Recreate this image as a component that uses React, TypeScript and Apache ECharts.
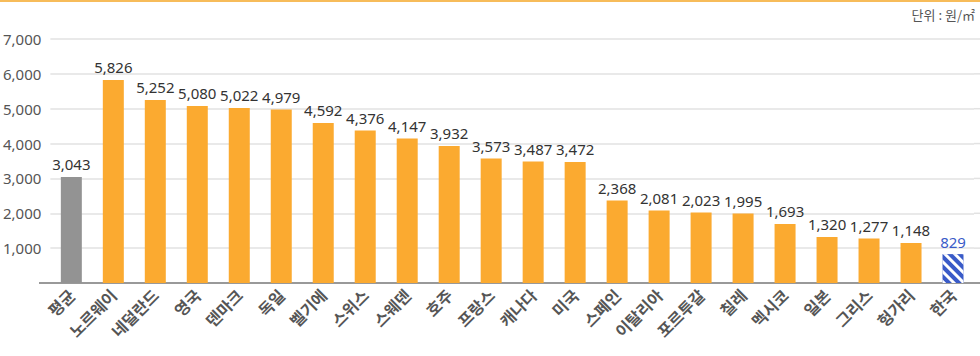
import React, { useEffect, useRef } from "react";
import * as echarts from "echarts";

const categories = ["평균", "노르웨이", "네덜란드", "영국", "덴마크", "독일", "벨기에", "스위스", "스웨덴", "호주", "프랑스", "캐나다", "미국", "스페인", "이탈리아", "포르투갈", "칠레", "멕시코", "일본", "그리스", "헝가리", "한국"];
const values = [3043, 5826, 5252, 5080, 5022, 4979, 4592, 4376, 4147, 3932, 3573, 3487, 3472, 2368, 2081, 2023, 1995, 1693, 1320, 1277, 1148, 829];
const yTicks = { min: 0, max: 7000, interval: 1000 };
const unitText = "단위 : 원/㎡";

const ORANGE = "#FBAA30";
const GRAY = "#939393";
const BLUE = "#3A5BC8";

export default function App() {
  const ref = useRef<HTMLDivElement>(null);
  useEffect(() => {
    if (!ref.current) return;
    const chart = echarts.init(ref.current, null, { renderer: "svg" });
    const n = categories.length;
    const data = values.map((v, i) => {
      if (i === 0) return { value: v, itemStyle: { color: GRAY } };
      if (i === n - 1)
        return {
          value: v,
          itemStyle: {
            color: BLUE,
            decal: {
              symbol: "rect",
              symbolSize: 1,
              color: "#ffffff",
              dashArrayX: [1, 0],
              dashArrayY: [2.5, 3.5],
              rotation: Math.PI / 4,
            },
          },
          label: { color: BLUE },
        };
      return { value: v, itemStyle: { color: ORANGE } };
    });
    chart.setOption({
      animation: false,
      textStyle: { fontFamily: "'Noto Sans', 'Noto Sans CJK KR', sans-serif" },
      grid: { left: 46, right: 6, top: 39, bottom: 73, containLabel: false },
      xAxis: {
        type: "category",
        data: categories,
        axisLine: { lineStyle: { color: "#999", width: 2 } },
        axisTick: { show: false },
        axisLabel: {
          rotate: 45,
          interval: 0,
          margin: 9,
          color: "#555",
          fontSize: 16,
          fontWeight: "bold",
          fontFamily: "'Noto Sans CJK KR', sans-serif",
        },
      },
      yAxis: {
        type: "value",
        min: yTicks.min,
        max: yTicks.max,
        interval: yTicks.interval,
        axisLine: { show: false },
        axisTick: { show: false },
        splitLine: { lineStyle: { color: "#e2e2e2", width: 1.5 } },
        axisLabel: {
          color: "#555",
          fontSize: 15,
          margin: 9,
          formatter: (v: number) => (v === 0 ? "" : v.toLocaleString("en-US")),
        },
      },
      series: [
        {
          type: "bar",
          data,
          barWidth: 21,
          label: {
            show: true,
            position: "top",
            distance: 5,
            color: "#333",
            fontSize: 15,
            formatter: (p: any) => Number(p.value).toLocaleString("en-US"),
          },
        },
      ],
    });
    // extend the baseline and gridlines across the full width, positioned from the axis scale
    const extra: any[] = [];
    const baseY = chart.convertToPixel({ yAxisIndex: 0 }, yTicks.min) as number;
    extra.push({
      type: "line",
      shape: { x1: 39, y1: baseY, x2: 980, y2: baseY },
      style: { stroke: "#999", lineWidth: 2 },
      z: 1,
    });
    for (let t = yTicks.min + yTicks.interval; t <= yTicks.max; t += yTicks.interval) {
      const y = chart.convertToPixel({ yAxisIndex: 0 }, t) as number;
      extra.push({
        type: "line",
        shape: { x1: 974, y1: y, x2: 980, y2: y },
        style: { stroke: "#e2e2e2", lineWidth: 1.5 },
        z: -1,
      });
    }
    chart.setOption({
      graphic: [
        { type: "line", shape: { x1: 0, y1: 1, x2: 980, y2: 1 }, style: { stroke: "#F5A623", lineWidth: 1.5 } },
        {
          type: "text",
          right: 5,
          top: 8,
          style: { text: unitText, fill: "#555", font: "13px 'Noto Sans CJK KR', sans-serif" },
        },
        ...extra,
      ],
    });
    return () => chart.dispose();
  }, []);
  return <div ref={ref} style={{ position: "absolute", left: 0, top: 0, width: 980, height: 356 }} />;
}
